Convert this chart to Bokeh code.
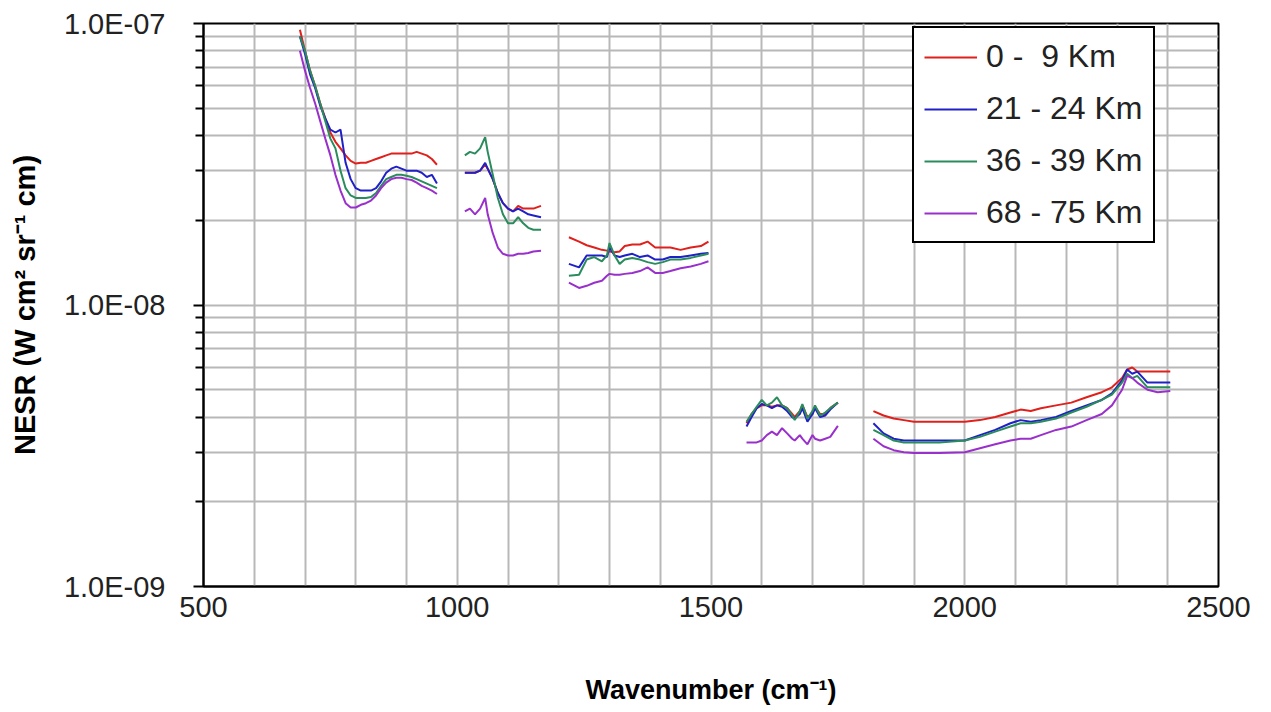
import numpy as np
from bokeh.plotting import figure
from bokeh.models import FixedTicker, CustomJSTickFormatter, Legend, LegendItem
from bokeh.embed import file_html
from bokeh.resources import INLINE

# ---------------- data ----------------
labels = ["0 -  9 Km", "21 - 24 Km", "36 - 39 Km", "68 - 75 Km"]
colors = ["#e0201c", "#2020c8", "#2a8c5c", "#9a30cc"]

wn_seg1 = [690, 700, 710, 720, 730, 740, 750, 760, 770, 780, 790, 800, 810, 820, 830,
           840, 850, 860, 870, 880, 890, 900, 910, 920, 930, 940, 950, 960]
wn_seg2 = [1015, 1025, 1035, 1045, 1055, 1060, 1070, 1080, 1090, 1100, 1110, 1120, 1130,
           1140, 1150, 1165]
wn_seg3 = [1220, 1240, 1255, 1270, 1285, 1295, 1300, 1310, 1320, 1330, 1345, 1360, 1375,
           1390, 1405, 1420, 1440, 1460, 1480, 1495]
wn_seg4 = [1570, 1580, 1590, 1600, 1610, 1620, 1630, 1640, 1650, 1660, 1665, 1675, 1680,
           1690, 1700, 1705, 1715, 1725, 1735, 1750]
wn_seg5 = [1820, 1840, 1860, 1880, 1900, 1950, 2000, 2030, 2060, 2090, 2110, 2130, 2150,
           2180, 2210, 2240, 2270, 2290, 2310, 2320, 2330, 2340, 2360, 2380, 2405]

# NESR values (seg1-seg3 in 1e-8, seg4-seg5 in 1e-9)
red_seg1 = [9.5, 8.0, 6.8, 6.0, 5.2, 4.6, 4.1, 3.8, 3.6, 3.4, 3.25, 3.18, 3.2, 3.2, 3.25,
            3.3, 3.35, 3.4, 3.45, 3.45, 3.45, 3.45, 3.45, 3.5, 3.45, 3.4, 3.3, 3.15]
blue_seg1 = [9.0, 7.8, 6.6, 5.9, 5.1, 4.6, 4.2, 4.1, 4.2, 3.2, 2.8, 2.6, 2.55, 2.55, 2.55,
             2.6, 2.75, 2.95, 3.05, 3.1, 3.05, 3.0, 3.0, 3.0, 2.95, 2.85, 2.9, 2.7]
green_seg1 = [9.0, 8.0, 6.8, 6.0, 5.2, 4.5, 3.9, 3.6, 3.0, 2.6, 2.45, 2.4, 2.4, 2.4, 2.42,
              2.5, 2.65, 2.8, 2.85, 2.9, 2.9, 2.88, 2.85, 2.8, 2.75, 2.7, 2.65, 2.6]
purple_seg1 = [8.0, 6.8, 5.9, 5.2, 4.5, 3.9, 3.4, 2.9, 2.55, 2.3, 2.22, 2.22, 2.27, 2.3, 2.35,
               2.45, 2.6, 2.72, 2.8, 2.83, 2.83, 2.8, 2.78, 2.72, 2.65, 2.6, 2.55, 2.48]

red_seg2 = [2.95, 2.95, 2.95, 3.0, 3.15, 3.05, 2.8, 2.5, 2.3, 2.2, 2.15, 2.25, 2.2, 2.2, 2.2, 2.25]
blue_seg2 = [2.95, 2.95, 2.95, 3.0, 3.2, 3.05, 2.8, 2.5, 2.3, 2.2, 2.15, 2.2, 2.15, 2.1, 2.08, 2.05]
green_seg2 = [3.4, 3.5, 3.45, 3.6, 3.95, 3.5, 2.9, 2.4, 2.1, 1.95, 1.95, 2.05, 1.95, 1.88, 1.85, 1.85]
purple_seg2 = [2.15, 2.2, 2.1, 2.2, 2.4, 2.1, 1.8, 1.6, 1.52, 1.5, 1.5, 1.52, 1.52, 1.53, 1.55, 1.56]

red_seg3 = [1.74, 1.68, 1.63, 1.6, 1.57, 1.56, 1.55, 1.54, 1.55, 1.62, 1.64, 1.64, 1.68, 1.6,
            1.6, 1.6, 1.57, 1.6, 1.62, 1.68]
blue_seg3 = [1.40, 1.36, 1.5, 1.5, 1.5, 1.48, 1.6, 1.5, 1.48, 1.5, 1.52, 1.48, 1.5, 1.45,
             1.45, 1.48, 1.48, 1.5, 1.52, 1.53]
green_seg3 = [1.27, 1.28, 1.45, 1.48, 1.43, 1.5, 1.66, 1.5, 1.4, 1.45, 1.47, 1.45, 1.42, 1.40,
              1.42, 1.45, 1.45, 1.47, 1.5, 1.52]
purple_seg3 = [1.2, 1.15, 1.17, 1.2, 1.22, 1.27, 1.29, 1.28, 1.28, 1.29, 1.3, 1.32, 1.36, 1.3,
               1.3, 1.32, 1.35, 1.37, 1.4, 1.43]

red_seg4 = [3.8, 4.1, 4.3, 4.4, 4.4, 4.35, 4.4, 4.4, 4.3, 4.1, 4.0, 4.2, 4.4, 4.0, 4.1, 4.35,
            4.1, 4.1, 4.3, 4.5]
blue_seg4 = [3.7, 4.0, 4.3, 4.45, 4.4, 4.3, 4.4, 4.35, 4.2, 4.0, 3.95, 4.1, 4.3, 3.85, 4.1,
             4.3, 4.0, 4.05, 4.25, 4.5]
green_seg4 = [3.85, 4.1, 4.35, 4.6, 4.4, 4.5, 4.7, 4.4, 4.3, 4.05, 3.9, 4.2, 4.45, 3.95, 4.2,
              4.4, 4.05, 4.15, 4.3, 4.5]
purple_seg4 = [3.25, 3.25, 3.25, 3.3, 3.45, 3.55, 3.45, 3.65, 3.5, 3.35, 3.3, 3.45, 3.35, 3.2,
               3.45, 3.35, 3.3, 3.35, 3.4, 3.72]

red_seg5 = [4.2, 4.05, 3.95, 3.9, 3.85, 3.85, 3.85, 3.9, 4.0, 4.15, 4.25, 4.2, 4.3, 4.4, 4.5,
            4.7, 4.9, 5.1, 5.5, 5.9, 6.0, 5.8, 5.8, 5.8, 5.8]
blue_seg5 = [3.8, 3.5, 3.35, 3.3, 3.3, 3.3, 3.3, 3.45, 3.6, 3.8, 3.9, 3.85, 3.9, 4.0, 4.2,
             4.4, 4.6, 4.85, 5.4, 5.9, 5.7, 5.8, 5.3, 5.3, 5.3]
green_seg5 = [3.6, 3.45, 3.3, 3.25, 3.25, 3.25, 3.3, 3.4, 3.55, 3.7, 3.8, 3.8, 3.85, 3.95, 4.15,
              4.35, 4.6, 4.8, 5.3, 5.7, 5.5, 5.6, 5.1, 5.1, 5.1]
purple_seg5 = [3.35, 3.15, 3.05, 3.0, 2.98, 2.98, 3.0, 3.1, 3.2, 3.3, 3.35, 3.35, 3.45, 3.6, 3.7,
               3.9, 4.1, 4.4, 5.0, 5.6, 5.5, 5.3, 5.0, 4.9, 4.95]

x_ticks = [500, 1000, 1500, 2000, 2500]
x_minor = [600, 700, 800, 900, 1100, 1200, 1300, 1400, 1600, 1700, 1800, 1900,
           2100, 2200, 2300, 2400]
y_ticks = [1e-9, 1e-8, 1e-7]


def join(segs, scales):
    xs, ys = [], []
    for (wx, wy), s in zip(segs, scales):
        if xs:
            xs.append(np.nan)
            ys.append(np.nan)
        xs.extend(wx)
        ys.extend([v * s for v in wy])
    return xs, ys


series = [
    [red_seg1, red_seg2, red_seg3, red_seg4, red_seg5],
    [blue_seg1, blue_seg2, blue_seg3, blue_seg4, blue_seg5],
    [green_seg1, green_seg2, green_seg3, green_seg4, green_seg5],
    [purple_seg1, purple_seg2, purple_seg3, purple_seg4, purple_seg5],
]
wn_all = [wn_seg1, wn_seg2, wn_seg3, wn_seg4, wn_seg5]
scales = [1e-8, 1e-8, 1e-8, 1e-9, 1e-9]

FONT = "Liberation Sans"

p = figure(width=1271, height=712, y_axis_type="log",
           x_range=(500, 2500), y_range=(1e-9, 1e-7),
           output_backend="svg", toolbar_location=None,
           min_border_left=203, min_border_right=53,
           min_border_top=23, min_border_bottom=126)
p.background_fill_color = "white"
p.border_fill_color = "white"
p.outline_line_color = "black"
p.outline_line_width = 2

renderers = []
for vals, col in zip(series, colors):
    xs, ys = join(list(zip(wn_all, vals)), scales)
    r = p.line(xs, ys, line_color=col, line_width=2)
    renderers.append(r)

# axes
p.xaxis.ticker = FixedTicker(ticks=x_ticks, minor_ticks=x_minor)
p.yaxis.ticker = FixedTicker(ticks=y_ticks,
                             minor_ticks=[m * 10.0 ** e for e in (-9, -8) for m in range(2, 10)])
p.yaxis.formatter = CustomJSTickFormatter(code="""
const e = Math.round(Math.log10(tick));
const a = Math.abs(e);
return "1.0E" + (e < 0 ? "-" : "+") + (a < 10 ? "0" : "") + a;
""")
for ax in (p.xaxis[0], p.yaxis[0]):
    ax.axis_line_color = "black"
    ax.axis_line_width = 2
    ax.major_tick_line_color = "black"
    ax.major_tick_line_width = 2
    ax.minor_tick_line_color = "black"
    ax.minor_tick_line_width = 2
    ax.major_tick_in = 0
    ax.minor_tick_in = 0
    ax.major_label_text_font = FONT
    ax.major_label_text_font_size = "29px"
    ax.major_label_text_color = "#222222"
    ax.axis_label_text_font = FONT
    ax.axis_label_text_font_style = "bold"
    ax.axis_label_text_font_size = "27px"
    ax.axis_label_text_color = "black"

p.yaxis.major_tick_out = 10
p.yaxis.minor_tick_out = 8
p.yaxis.major_label_standoff = 28
p.xaxis.major_tick_out = 0
p.xaxis.minor_tick_out = 0
p.xaxis.major_label_standoff = 10
p.xaxis.axis_label = "Wavenumber (cm\u207b\u00b9)"
p.yaxis.axis_label = "NESR (W cm\u00b2 sr\u207b\u00b9 cm)"
p.yaxis.axis_label_text_font_size = "29px"
p.xaxis.axis_label_standoff = 55
p.yaxis.axis_label_standoff = 20

# grid
for g in (p.xgrid[0], p.ygrid[0]):
    g.grid_line_color = "#b8b8b8"
    g.grid_line_width = 2
    g.minor_grid_line_color = "#b8b8b8"
    g.minor_grid_line_width = 2

# legend
legend = Legend(items=[LegendItem(label=l, renderers=[r]) for l, r in zip(labels, renderers)],
                location=(709, 343))
legend.border_line_color = "black"
legend.border_line_alpha = 1
legend.border_line_width = 2
legend.background_fill_color = "white"
legend.background_fill_alpha = 1
legend.label_text_font = FONT
legend.label_text_font_size = "32px"
legend.label_text_color = "#222222"
legend.glyph_width = 53
legend.glyph_height = 30
legend.label_height = 30
legend.spacing = 15
legend.padding = 10
legend.label_standoff = 9
legend.margin = 0
p.add_layout(legend, "center")

open("out.html", "w").write(file_html(p, INLINE))
